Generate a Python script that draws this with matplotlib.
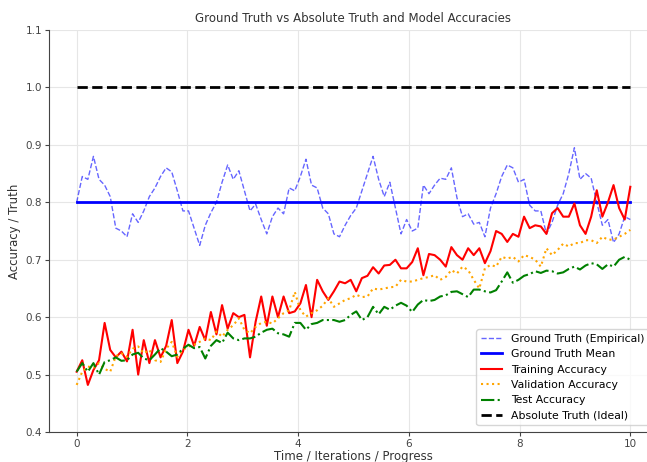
import numpy as np
import matplotlib.pyplot as plt

# values (100 samples over 0..10)
x = np.linspace(0, 10, 100)

ground_truth = [
    0.800, 0.845, 0.840, 0.880, 0.840, 0.830, 0.810, 0.755, 0.750, 0.740,
    0.780, 0.765, 0.785, 0.810, 0.825, 0.845, 0.860, 0.853, 0.820, 0.785,
    0.785, 0.755, 0.725, 0.760, 0.782, 0.800, 0.835, 0.865, 0.840, 0.855,
    0.820, 0.785, 0.797, 0.770, 0.745, 0.775, 0.790, 0.780, 0.825, 0.820,
    0.845, 0.875, 0.830, 0.825, 0.790, 0.780, 0.745, 0.740, 0.760, 0.777,
    0.790, 0.820, 0.850, 0.880, 0.840, 0.810, 0.835, 0.790, 0.745, 0.770,
    0.750, 0.755, 0.830, 0.815, 0.830, 0.842, 0.840, 0.860, 0.808, 0.775,
    0.780, 0.762, 0.765, 0.740, 0.790, 0.815, 0.845, 0.865, 0.860, 0.835,
    0.840, 0.795, 0.785, 0.785, 0.745, 0.765, 0.795, 0.815, 0.850, 0.895,
    0.840, 0.850, 0.842, 0.800, 0.760, 0.770, 0.730, 0.745, 0.775, 0.770,
]
gt_mean = 0.8
absolute_truth = 1.0

train_acc = [
    0.505, 0.525, 0.482, 0.508, 0.525, 0.590, 0.543, 0.530, 0.540, 0.523,
    0.578, 0.500, 0.560, 0.520, 0.560, 0.530, 0.550, 0.595, 0.520, 0.540,
    0.578, 0.550, 0.583, 0.560, 0.609, 0.570, 0.621, 0.580, 0.607, 0.600,
    0.604, 0.530, 0.592, 0.636, 0.585, 0.636, 0.600, 0.636, 0.607, 0.610,
    0.624, 0.656, 0.600, 0.665, 0.645, 0.630, 0.645, 0.662, 0.659, 0.665,
    0.645, 0.668, 0.672, 0.687, 0.676, 0.690, 0.691, 0.700, 0.685, 0.685,
    0.696, 0.720, 0.673, 0.710, 0.708, 0.700, 0.688, 0.722, 0.708, 0.700,
    0.720, 0.708, 0.720, 0.694, 0.715, 0.750, 0.745, 0.731, 0.745, 0.740,
    0.775, 0.755, 0.760, 0.758, 0.745, 0.781, 0.790, 0.775, 0.775, 0.798,
    0.760, 0.745, 0.775, 0.821, 0.775, 0.800, 0.830, 0.790, 0.770, 0.827,
]

val_acc = [
    0.482, 0.505, 0.514, 0.512, 0.520, 0.510, 0.505, 0.532, 0.537, 0.531,
    0.545, 0.549, 0.537, 0.543, 0.525, 0.522, 0.545, 0.557, 0.531, 0.543,
    0.549, 0.552, 0.557, 0.563, 0.560, 0.575, 0.566, 0.578, 0.586, 0.598,
    0.578, 0.572, 0.583, 0.590, 0.592, 0.589, 0.598, 0.607, 0.612, 0.644,
    0.612, 0.601, 0.607, 0.612, 0.620, 0.633, 0.618, 0.624, 0.630, 0.633,
    0.639, 0.635, 0.636, 0.650, 0.648, 0.650, 0.652, 0.653, 0.665, 0.662,
    0.662, 0.665, 0.668, 0.670, 0.673, 0.665, 0.670, 0.682, 0.676, 0.688,
    0.682, 0.665, 0.650, 0.685, 0.691, 0.688, 0.705, 0.702, 0.705, 0.697,
    0.708, 0.705, 0.700, 0.688, 0.720, 0.708, 0.717, 0.728, 0.723, 0.729,
    0.729, 0.734, 0.734, 0.729, 0.740, 0.735, 0.735, 0.740, 0.745, 0.752,
]

test_acc = [
    0.505, 0.520, 0.505, 0.520, 0.500, 0.522, 0.525, 0.530, 0.524, 0.525,
    0.535, 0.538, 0.528, 0.525, 0.535, 0.546, 0.540, 0.532, 0.535, 0.545,
    0.552, 0.546, 0.548, 0.528, 0.550, 0.560, 0.555, 0.573, 0.563, 0.560,
    0.563, 0.563, 0.566, 0.573, 0.578, 0.580, 0.572, 0.570, 0.566, 0.590,
    0.590, 0.578, 0.588, 0.590, 0.595, 0.595, 0.595, 0.592, 0.595, 0.604,
    0.610, 0.595, 0.600, 0.618, 0.605, 0.618, 0.613, 0.620, 0.625, 0.620,
    0.609, 0.622, 0.630, 0.628, 0.630, 0.636, 0.638, 0.644, 0.645, 0.640,
    0.635, 0.648, 0.648, 0.645, 0.643, 0.647, 0.662, 0.678, 0.660, 0.665,
    0.672, 0.675, 0.680, 0.677, 0.681, 0.680, 0.676, 0.678, 0.684, 0.688,
    0.683, 0.690, 0.694, 0.692, 0.684, 0.692, 0.688, 0.700, 0.705, 0.700,
]

fig = plt.figure(figsize=(6.47, 4.62), dpi=100)
# the reference crops the right edge of the axes
ax = fig.add_axes([0.0757, 0.0649, 0.9413, 0.8701])

ax.plot(x, ground_truth, '--', color='blue', alpha=0.6, lw=1, label='Ground Truth (Empirical)')
ax.plot(x, [gt_mean] * len(x), '-', color='blue', lw=2, label='Ground Truth Mean')
ax.plot(x, train_acc, '-', color='red', lw=1.5, label='Training Accuracy')
ax.plot(x, val_acc, ':', color='orange', lw=1.5, label='Validation Accuracy')
ax.plot(x, test_acc, '-.', color='green', lw=1.5, label='Test Accuracy')
ax.plot(x, [absolute_truth] * len(x), '--', color='black', lw=2, label='Absolute Truth (Ideal)')

ax.set_xlim(-0.5, 10.5)
ax.set_ylim(0.4, 1.1)
ax.set_xticks([0, 2, 4, 6, 8, 10])
ax.set_yticks(np.arange(0.4, 1.11, 0.1))
ax.grid(True, color='#e6e6e6', lw=0.8)
for s in ['top', 'right']:
    ax.spines[s].set_visible(False)
for s in ['left', 'bottom']:
    ax.spines[s].set_color('#444444')
ax.tick_params(labelsize=7.5, colors='#444444', length=3, pad=2)

ax.set_title('Ground Truth vs Absolute Truth and Model Accuracies', fontsize=8.5, color='#333333')
ax.set_xlabel('Time / Iterations / Progress', fontsize=8.5, color='#333333', labelpad=1)
ax.set_ylabel('Accuracy / Truth', fontsize=8.5, color='#333333', labelpad=3)
ax.legend(loc='lower right', bbox_to_anchor=(0.985, 0.017), borderaxespad=0,
          fontsize=7.8, framealpha=0.8)

fig.savefig('out.png', dpi=100)
